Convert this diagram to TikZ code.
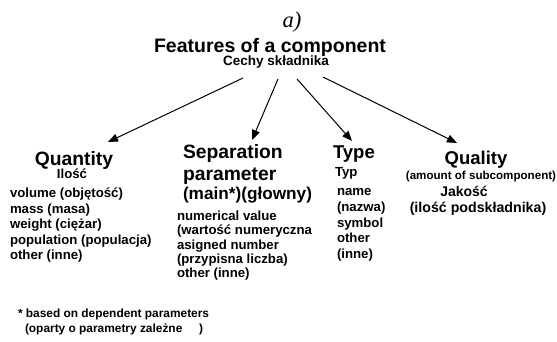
\documentclass[tikz,border=0pt]{standalone}
\usepackage{fontspec}
\setmainfont{Liberation Sans}
\newfontfamily\serifit{Liberation Serif}
\usetikzlibrary{arrows.meta}
\tikzset{
  txt/.style={inner sep=0pt, outer sep=0pt, font=\bfseries},
  head/.style={txt, font=\fontsize{19.3}{22}\selectfont\bfseries},
  sub/.style={txt, font=\fontsize{13.2}{15}\selectfont\bfseries},
  item/.style={txt, anchor=base west, font=\fontsize{13.2}{15}\selectfont\bfseries},
  foot/.style={txt, anchor=base west, font=\fontsize{11.9}{14}\selectfont\bfseries},
  link/.style={line width=1pt, -{Triangle[length=10pt,width=8pt]}}
}
\begin{document}
\begin{tikzpicture}[x=1pt,y=-1pt]
\useasboundingbox (0,0) rectangle (557,342);
% title
\node[txt, font=\fontsize{22.5}{26}\selectfont\serifit\itshape\mdseries] (lab) at (292,22) {a)};
\node[txt, font=\fontsize{19.5}{22}\selectfont\bfseries] (feat) at (270,47) {Features of a component};
\node[txt, font=\fontsize{13.5}{15}\selectfont\bfseries] (cechy) at (276,62) {Cechy składnika};
% Quantity
\node[head] (qty) at (74,160.5) {Quantity};
\node[sub] (ilosc) at (72,174) {Ilość};
\foreach \t [count=\i] in {{volume (objętość)}, {mass (masa)}, {weight (ciężar)}, {population (populacja)}, {other (inne)}}
  \node[item] (q\i) at (10,{197.5+15.5*(\i-1)}) {\t};
% Separation parameter
\node[head, anchor=west] (sep1) at (183,154) {Separation};
\node[head, anchor=west] (sep2) at (183,176.5) {parameter};
\node[txt, anchor=west, font=\fontsize{17.2}{20}\selectfont\bfseries] (sep3) at (183,195) {(main*)(głowny)};
\foreach \t [count=\i] in {{numerical value}, {(wartość numeryczna}, {asigned number}, {(przypisna liczba)}, {other (inne)}}
  \node[item] (s\i) at (177,{220.5+14.25*(\i-1)}) {\t};
% Type
\node[head, anchor=west, font=\fontsize{18.5}{22}\selectfont\bfseries] (type) at (333,154.5) {Type};
\node[sub, anchor=west] (typ) at (335,173) {Typ};
\foreach \t [count=\i] in {{name}, {(nazwa)}, {symbol}, {other}, {(inne)}}
  \node[item] (t\i) at (337,{195.5+15.75*(\i-1)}) {\t};
% Quality
\node[head, font=\fontsize{18.5}{22}\selectfont\bfseries] (qual) at (476,159.5) {Quality};
\node[txt, font=\fontsize{11.6}{14}\selectfont\bfseries] (amount) at (481,177) {(amount of subcomponent)};
\node[sub, font=\fontsize{14}{16}\selectfont\bfseries] (jakosc) at (464,191.5) {Jakość};
\node[sub, font=\fontsize{14.2}{16}\selectfont\bfseries] (podskl) at (478,208.5) {(ilość podskładnika)};
% footnote
\node[foot] (fn1) at (18,317) {* based on dependent parameters};
\node[foot] (fn2) at (25,332) {(oparty o parametry zależne};
\node[foot] (fn3) at (199,332) {)};
% arrows
\coordinate (a1s) at (243,78); \coordinate (a1e) at (108,142);
\coordinate (a2s) at (278,79); \coordinate (a2e) at (252,140);
\coordinate (a3s) at (297,79); \coordinate (a3e) at (352,141);
\coordinate (a4s) at (323,77); \coordinate (a4e) at (457,143);
\draw[link] (a1s) -- (a1e);
\draw[link] (a2s) -- (a2e);
\draw[link] (a3s) -- (a3e);
\draw[link] (a4s) -- (a4e);
\end{tikzpicture}
\end{document}
